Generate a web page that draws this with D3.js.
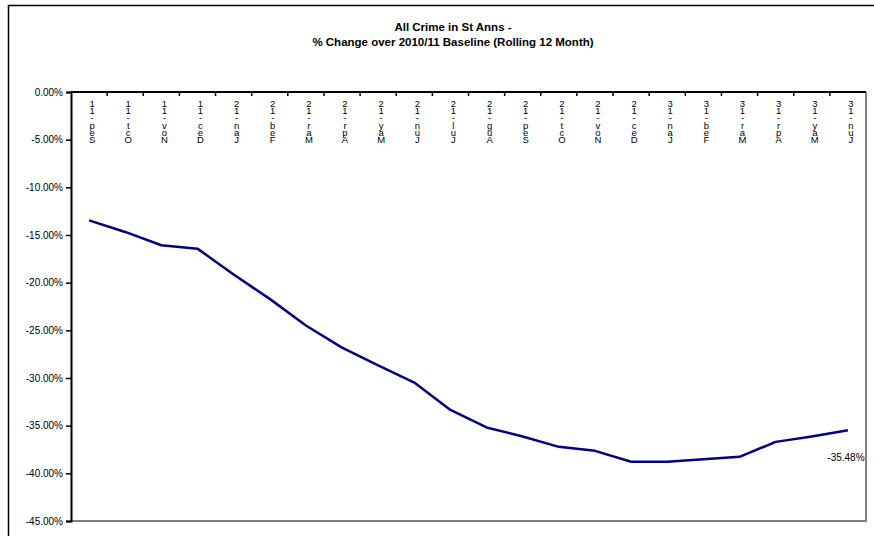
<!DOCTYPE html>
<html>
<head>
<meta charset="utf-8">
<script src="https://cdn.jsdelivr.net/npm/d3@7"></script>
<style>
  body { margin: 0; background: #fff; }
  text { font-family: Arial, "Liberation Sans", sans-serif; }
</style>
</head>
<body>
<div id="viz"></div>
<script>
// months of the rolling 12 month series
var months = ['Sep-11', 'Oct-11', 'Nov-11', 'Dec-11', 'Jan-12', 'Feb-12', 'Mar-12', 'Apr-12',
    'May-12', 'Jun-12', 'Jul-12', 'Aug-12', 'Sep-12', 'Oct-12', 'Nov-12', 'Dec-12',
    'Jan-13', 'Feb-13', 'Mar-13', 'Apr-13', 'May-13', 'Jun-13'];

// % change over 2010/11 baseline
var pctChange = [-13.47, -14.68, -16.08, -16.43, -19.15, -21.7, -24.49, -26.82,
    -28.67, -30.48, -33.35, -35.19, -36.13, -37.22, -37.64, -38.79,
    -38.79, -38.51, -38.27, -36.7, -36.13, -35.48];

var yTicks = [0, -5, -10, -15, -20, -25, -30, -35, -40, -45];

var width = 874,
    height = 536,
    plotLeft = 71, plotTop = 92, plotRight = 866, plotBottom = 521;

function pct(d) {
    return d.toFixed(2) + '%';
}

var svg = d3.select('#viz').append('svg')
    .attr('width', width)
    .attr('height', height);

// outer chart frame
svg.append('rect')
    .attr('x', 8.5).attr('y', 5.5)
    .attr('width', 900).attr('height', 600)
    .attr('fill', 'none')
    .attr('stroke', '#000')
    .attr('stroke-width', 1.5);

var title = svg.append('text')
    .attr('text-anchor', 'middle')
    .attr('font-size', 11.5)
    .attr('font-weight', 'bold');
title.append('tspan').attr('x', 453).attr('y', 31).text('All Crime in St Anns -');
title.append('tspan').attr('x', 453).attr('y', 46).text('% Change over 2010/11 Baseline (Rolling 12 Month)');

var xScale = d3.scaleBand()
    .domain(months)
    .range([plotLeft, plotRight]);

var yScale = d3.scaleLinear()
    .domain([0, -45])
    .range([plotTop, plotBottom]);

// plot area border (right + bottom in grey)
svg.append('path')
    .attr('d', 'M' + plotRight + ',' + plotTop + 'V' + plotBottom + 'H' + plotLeft)
    .attr('fill', 'none')
    .attr('stroke', '#808080')
    .attr('stroke-width', 2);

// y axis
var yAxis = svg.append('g')
    .attr('transform', 'translate(' + plotLeft + ',0)')
    .call(d3.axisLeft(yScale)
        .tickValues(yTicks)
        .tickSize(5)
        .tickFormat(pct));
yAxis.select('.domain').attr('stroke', '#000').attr('stroke-width', 2);
yAxis.selectAll('.tick line').attr('stroke', '#000').attr('stroke-width', 1.5);
yAxis.selectAll('.tick text')
    .attr('font-size', 10)
    .attr('font-family', 'Arial, "Liberation Sans", sans-serif')
    .attr('fill', '#000')
    .attr('x', -8);

// x axis at the top (0%)
svg.append('line')
    .attr('x1', plotLeft).attr('x2', plotRight)
    .attr('y1', plotTop).attr('y2', plotTop)
    .attr('stroke', '#000')
    .attr('stroke-width', 2);

svg.selectAll('.xtick')
    .data(months.slice(1))
    .enter().append('line')
    .attr('class', 'xtick')
    .attr('x1', function(d) { return xScale(d); })
    .attr('x2', function(d) { return xScale(d); })
    .attr('y1', plotTop)
    .attr('y2', plotTop + 4)
    .attr('stroke', '#000')
    .attr('stroke-width', 1.5);

// month labels, characters stacked reversed
var lab = svg.selectAll('.xlab')
    .data(months)
    .enter().append('text')
    .attr('class', 'xlab')
    .attr('font-size', 9.5)
    .attr('text-anchor', 'middle')
    .attr('fill', '#000');

lab.each(function(d) {
    var chars = d.split('').reverse();
    var t = d3.select(this);
    var cx = xScale(d) + xScale.bandwidth() / 2 + 3;
    chars.forEach(function(c, i) {
        t.append('tspan')
            .attr('x', cx)
            .attr('y', 107 + i * 7.2)
            .text(c);
    });
});

// the line
var line = d3.line()
    .x(function(d, i) { return xScale(months[i]) + xScale.bandwidth() / 2; })
    .y(function(d) { return yScale(d); });

svg.append('path')
    .datum(pctChange)
    .attr('d', line)
    .attr('fill', 'none')
    .attr('stroke', '#000080')
    .attr('stroke-width', 2.5)
    .attr('stroke-linejoin', 'round');

// last value label
var last = pctChange.length - 1;
svg.append('text')
    .attr('x', xScale(months[last]) + xScale.bandwidth() / 2 - 2)
    .attr('y', yScale(pctChange[last]) + 31)
    .attr('text-anchor', 'middle')
    .attr('font-size', 10)
    .attr('fill', '#000')
    .text(pct(pctChange[last]));
</script>
</body>
</html>
